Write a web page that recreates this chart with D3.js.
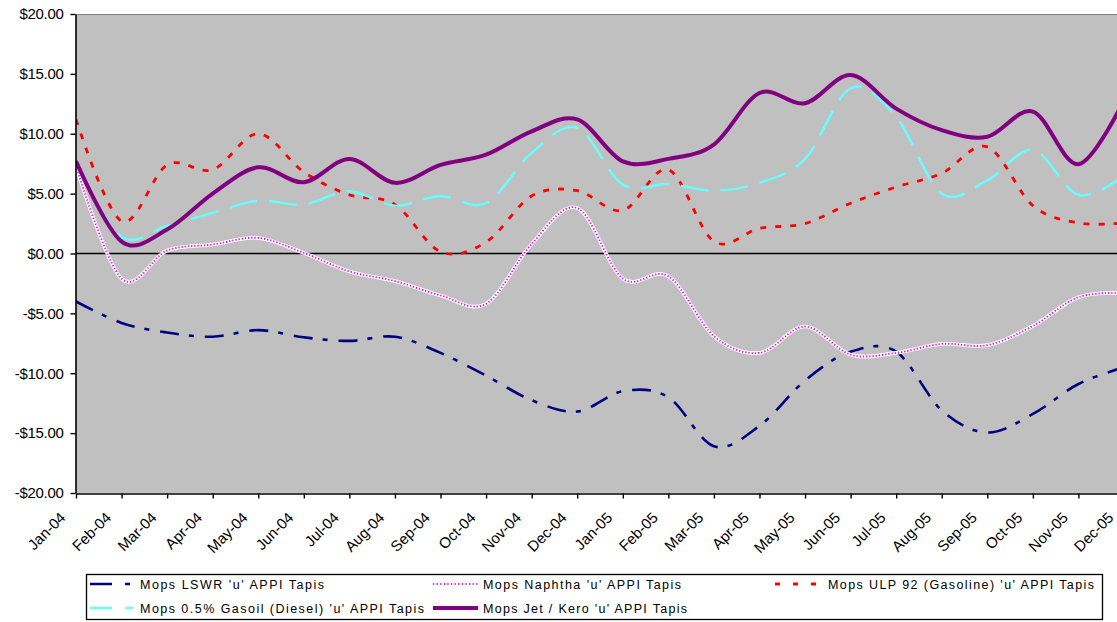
<!DOCTYPE html>
<html>
<head>
<meta charset="utf-8">
<script src="https://cdn.jsdelivr.net/npm/d3@7"></script>
<style>
  html, body { margin: 0; padding: 0; background: #ffffff; }
  svg { display: block; font-family: "Liberation Sans", Arial, sans-serif; }
</style>
</head>
<body>
<svg id="chart" width="1117" height="622"></svg>
<script>
// Monthly price differentials vs APPI Tapis, US$/bbl
const months = ["Jan-04","Feb-04","Mar-04","Apr-04","May-04","Jun-04","Jul-04","Aug-04","Sep-04","Oct-04","Nov-04","Dec-04",
                "Jan-05","Feb-05","Mar-05","Apr-05","May-05","Jun-05","Jul-05","Aug-05","Sep-05","Oct-05","Nov-05","Dec-05"];

const lswr    = [-4.0, -5.8, -6.6, -6.95, -6.4, -7.0, -7.3, -6.95, -8.3, -10.2, -12.25, -13.2,
                 -11.5, -12.0, -16.1, -14.4, -10.6, -8.2, -8.2, -13.1, -14.95, -13.4, -10.9, -9.5];
const naphtha = [7.3, -2.1, 0.25, 0.75, 1.3, 0.05, -1.5, -2.3, -3.5, -4.2, 0.8, 3.8,
                 -2.1, -1.9, -6.9, -8.3, -6.1, -8.45, -8.3, -7.55, -7.65, -6.05, -3.65, -3.3];
const ulp92   = [11.2, 2.7, 7.4, 7.0, 10.0, 6.8, 4.9, 4.1, 0.15, 0.95, 4.8, 5.25,
                 3.6, 7.0, 1.0, 2.1, 2.5, 4.2, 5.55, 6.7, 8.9, 4.0, 2.55, 2.55];
const gasoil  = [7.4, 1.4, 2.3, 3.4, 4.4, 4.1, 5.2, 4.0, 4.8, 4.2, 8.4, 10.5,
                 5.75, 5.8, 5.25, 5.9, 7.9, 13.8, 11.4, 5.0, 6.1, 8.65, 4.9, 6.5];
const jetKero = [7.7, 1.0, 2.0, 5.0, 7.2, 5.95, 7.9, 5.9, 7.4, 8.25, 10.2, 11.2,
                 7.7, 7.9, 9.1, 13.4, 12.55, 14.9, 12.1, 10.3, 9.75, 11.85, 7.45, 12.8];

const yTicks = [-20, -15, -10, -5, 0, 5, 10, 15, 20];

const seriesNames = [
  "Mops LSWR 'u' APPI Tapis",
  "Mops Naphtha 'u' APPI Tapis",
  "Mops ULP 92 (Gasoline) 'u' APPI Tapis",
  "Mops 0.5% Gasoil (Diesel) 'u' APPI Tapis",
  "Mops Jet / Kero 'u' APPI Tapis"
];

// Series in drawing / legend order
const series = [
  { name: seriesNames[0], values: lswr,    color: "#000080", width: 2.6, dash: "19,10,5,11", legendDash: "22,13,5,20" },
  { name: seriesNames[1], values: naphtha, color: "#ff00ff", width: 1.9, dash: "1.3,1.9",    legendDash: "1.2,2.4", halo: true },
  { name: seriesNames[2], values: ulp92,   color: "#ff0000", width: 2.8, dash: "6,9",        legendDash: "5,13" },
  { name: seriesNames[3], values: gasoil,  color: "#66ffff", width: 2.4, dash: "28,12",      legendDash: "22,13" },
  { name: seriesNames[4], values: jetKero, color: "#800080", width: 4,   dash: null,         legendDash: null }
];

const svg = d3.select("#chart");
const W = 1117, H = 622;
const plot = { left: 76, top: 14, bottom: 493, lastX: 1124 };

const x = d3.scalePoint().domain(months).range([plot.left, plot.lastX]);
const y = d3.scaleLinear().domain([-20, 20]).range([plot.bottom, plot.top]);

svg.append("defs").append("clipPath").attr("id", "plotClip")
  .append("rect").attr("x", plot.left).attr("y", plot.top - 2)
  .attr("width", W - plot.left).attr("height", plot.bottom - plot.top + 4);

// plot background
svg.append("rect")
  .attr("x", plot.left).attr("y", plot.top)
  .attr("width", W - plot.left).attr("height", plot.bottom - plot.top)
  .attr("fill", "#c0c0c0");

// top frame line
svg.append("line")
  .attr("x1", plot.left).attr("x2", W)
  .attr("y1", plot.top + 0.5).attr("y2", plot.top + 0.5)
  .attr("stroke", "#808080").attr("stroke-width", 1);

// zero line
svg.append("line")
  .attr("x1", plot.left).attr("x2", W)
  .attr("y1", y(0)).attr("y2", y(0))
  .attr("stroke", "#000").attr("stroke-width", 1.6);

// lines
const lineGen = d3.line()
  .x((d, i) => x(months[i]))
  .y(d => y(d))
  .curve(d3.curveCatmullRom.alpha(0));

const gLines = svg.append("g").attr("clip-path", "url(#plotClip)");
series.forEach(s => {
  if (s.halo) {
    gLines.append("path").datum(s.values)
      .attr("d", lineGen).attr("fill", "none")
      .attr("stroke", "#ffffff").attr("stroke-width", 3.6);
  }
  gLines.append("path").datum(s.values)
    .attr("d", lineGen).attr("fill", "none")
    .attr("stroke", s.color).attr("stroke-width", s.width)
    .attr("stroke-dasharray", s.dash)
    .attr("stroke-linejoin", "round");
});

// y axis
const yAxis = d3.axisLeft(y)
  .tickValues(yTicks)
  .tickSize(5).tickSizeOuter(0).tickPadding(7)
  .tickFormat(d => (d < 0 ? "-$" : "$") + Math.abs(d).toFixed(2));
const gy = svg.append("g").attr("transform", `translate(${plot.left - 0.5},0)`).call(yAxis);
gy.select(".domain").attr("stroke", "#000").attr("stroke-width", 1.6);
gy.selectAll(".tick line").attr("stroke", "#000").attr("stroke-width", 1.4);
gy.selectAll(".tick text")
  .attr("font-size", 15).attr("fill", "#000")
  .attr("font-family", "'Liberation Sans', Arial, sans-serif")
  .attr("letter-spacing", -0.3);

// x axis
const xAxis = d3.axisBottom(x).tickSize(5).tickSizeOuter(0);
const gx = svg.append("g").attr("transform", `translate(0,${plot.bottom + 0.5})`).call(xAxis);
gx.select(".domain").attr("stroke", "#000").attr("stroke-width", 1.6);
gx.selectAll(".tick line").attr("stroke", "#000").attr("stroke-width", 1.4);
gx.selectAll(".tick text")
  .attr("font-size", 15).attr("fill", "#000")
  .attr("font-family", "'Liberation Sans', Arial, sans-serif")
  .attr("text-anchor", "end")
  .attr("x", 0).attr("y", 0).attr("dy", 0)
  .attr("transform", "translate(-10,25) rotate(-45)");

// legend
const legend = svg.append("g");
legend.append("rect")
  .attr("x", 86.5).attr("y", 574.5).attr("width", 1016).attr("height", 45)
  .attr("fill", "#ffffff").attr("stroke", "#000").attr("stroke-width", 1.3);

const cols = [
  { lx: 90, lw: 43, tx: 140 },
  { lx: 433, lw: 45, tx: 483 },
  { lx: 775, lw: 42, tx: 828 }
];
const rows = [584, 608];
const slots = [[0, 0], [1, 0], [2, 0], [0, 1], [1, 1]];
const textWidths = [184, 198, 266, 284, 204];

series.forEach((s, i) => {
  const c = cols[slots[i][0]], ry = rows[slots[i][1]];
  const g = legend.append("g");
  g.append("line")
    .attr("x1", c.lx).attr("x2", c.lx + c.lw)
    .attr("y1", ry).attr("y2", ry)
    .attr("stroke", s.color).attr("stroke-width", s.width)
    .attr("stroke-dasharray", s.legendDash);
  g.append("text")
    .attr("x", c.tx).attr("y", ry + 4.5)
    .attr("font-size", 12.5).attr("fill", "#000")
    .attr("textLength", textWidths[i]).attr("lengthAdjust", "spacing")
    .text(s.name);
});
</script>
</body>
</html>
